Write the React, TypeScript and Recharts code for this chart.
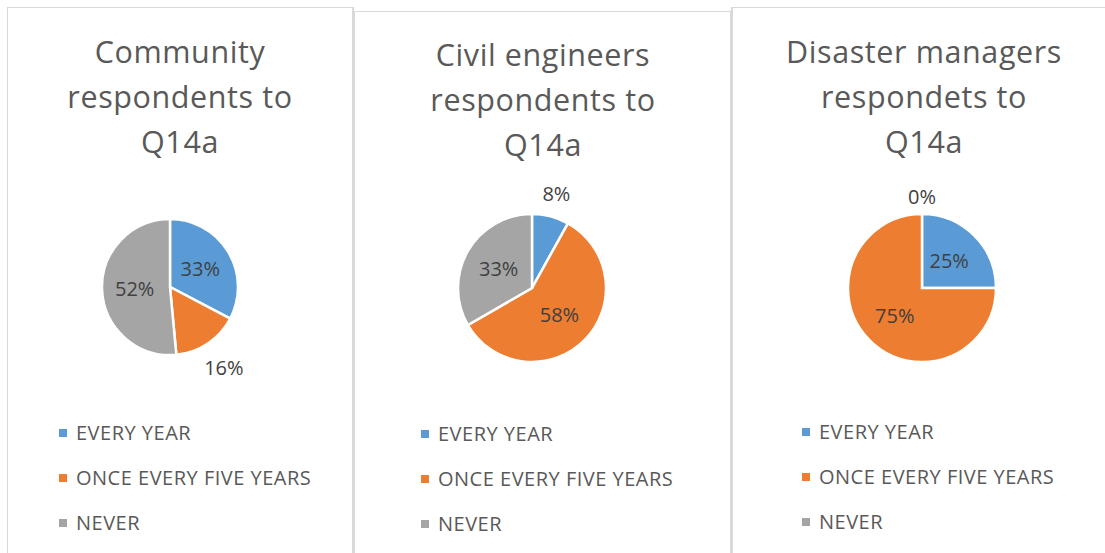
import React from 'react'
import { PieChart, Pie, Cell, Legend } from 'recharts'

const categories = ['EVERY YEAR', 'ONCE EVERY FIVE YEARS', 'NEVER']
const communityValues = [33, 16, 52]
const engineerValues = [8, 58, 33]
const managerValues = [25, 75, 0]

const communityTitle = ['Community', 'respondents to', 'Q14a']
const engineerTitle = ['Civil engineers', 'respondents to', 'Q14a']
const managerTitle = ['Disaster managers', 'respondets to', 'Q14a']

const COLORS = ['#5B9BD5', '#ED7D31', '#A5A5A5']
const FONT = '"Open Sans", Lato, sans-serif'
const RAD = Math.PI / 180

const toRows = (values: number[]) => categories.map((name, i) => ({ name, value: values[i] }))

// excel "best fit": small slices get their label outside the pie
const renderLabel = (props: any) => {
  const { cx, cy, midAngle, outerRadius, value } = props
  const dx = Math.cos(-midAngle * RAD)
  const dy = Math.sin(-midAngle * RAD)
  let d = outerRadius * 0.52
  if (value < 20) {
    d = outerRadius + 9 + 22 * Math.abs(dx) + 9 * Math.abs(dy)
  }
  return (
    <text
      x={cx + d * dx}
      y={cy + d * dy}
      fill="#404040"
      fontSize={20}
      fontFamily={FONT}
      textAnchor="middle"
      dominantBaseline="central"
    >
      {value}%
    </text>
  )
}

const renderLegend = () => (
  <div style={{ fontFamily: FONT, fontSize: 20, letterSpacing: 0.5, color: '#595959' }}>
    {categories.map((c, i) => (
      <div key={c} style={{ display: 'flex', alignItems: 'center', height: 45, whiteSpace: 'nowrap' }}>
        <span style={{ width: 8, height: 8, background: COLORS[i], marginRight: 9, display: 'inline-block' }} />
        {c}
      </div>
    ))}
  </div>
)

type PanelProps = {
  left: number
  top: number
  width: number
  title: string[]
  values: number[]
  cx: number
  cy: number
  r: number
  titleX: number
  titleTop: number
  legendX: number
  legendTop: number
  borderW: [number, number]
}

function Panel(p: PanelProps) {
  return (
    <>
      <div
        style={{
          position: 'absolute',
          left: p.left,
          top: p.top,
          width: p.width,
          height: 600,
          boxSizing: 'border-box',
          borderTop: '1px solid #d9d9d9',
          borderLeft: `${p.borderW[0]}px solid #d9d9d9`,
          borderRight: `${p.borderW[1]}px solid #d9d9d9`,
        }}
      />
      <div
        style={{
          position: 'absolute',
          left: p.left + p.titleX - 200,
          top: p.titleTop,
          width: 400,
          textAlign: 'center',
          fontFamily: FONT,
          fontSize: 30.5,
          letterSpacing: 0.6,
          lineHeight: '45px',
          color: '#595959',
        }}
      >
        {p.title.map((t) => (
          <div key={t}>{t}</div>
        ))}
      </div>
      <div style={{ position: 'absolute', left: p.left, top: 0 }}>
        <PieChart width={p.width} height={553} margin={{ top: 0, right: 0, bottom: 0, left: 0 }}>
          <Pie
            data={toRows(p.values)}
            dataKey="value"
            nameKey="name"
            cx={p.cx}
            cy={p.cy}
            outerRadius={p.r}
            startAngle={90}
            endAngle={-270}
            stroke="#ffffff"
            strokeWidth={2.5}
            label={renderLabel}
            labelLine={false}
            isAnimationActive={false}
          >
            {categories.map((c, i) => (
              <Cell key={c} fill={COLORS[i]} />
            ))}
          </Pie>
          <Legend
            content={renderLegend}
            wrapperStyle={{ left: p.legendX, top: p.legendTop, width: 'auto' }}
          />
        </PieChart>
      </div>
    </>
  )
}

export default function App() {
  return (
    <div style={{ position: 'absolute', left: 0, top: 0, width: 1105, height: 553, overflow: 'hidden', background: '#fff' }}>
      <Panel
        left={7}
        top={7}
        width={347}
        title={communityTitle}
        values={communityValues}
        cx={163}
        cy={287}
        r={68}
        titleX={173}
        titleTop={29}
        legendX={52}
        legendTop={410}
        borderW={[1, 2]}
      />
      <Panel
        left={354}
        top={11}
        width={378}
        title={engineerTitle}
        values={engineerValues}
        cx={178}
        cy={288}
        r={74}
        titleX={189}
        titleTop={32}
        legendX={67}
        legendTop={411}
        borderW={[1, 2]}
      />
      <Panel
        left={731}
        top={7}
        width={380}
        title={managerTitle}
        values={managerValues}
        cx={191}
        cy={288}
        r={74}
        titleX={193}
        titleTop={29}
        legendX={71}
        legendTop={409}
        borderW={[2, 0]}
      />
    </div>
  )
}
